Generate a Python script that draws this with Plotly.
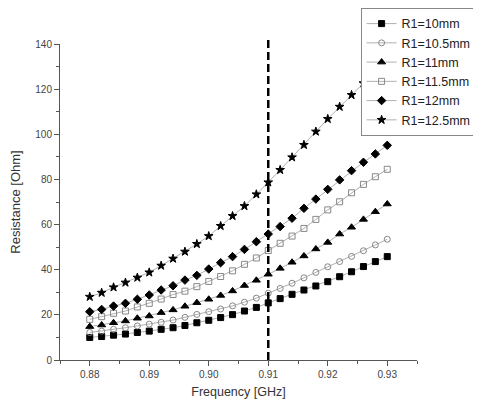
import plotly.graph_objects as go

freq = [round(0.88 + 0.002 * i, 3) for i in range(26)]

r10 = [10.0, 10.4, 11.0, 11.5, 12.2, 12.8, 13.6, 14.3, 15.3, 16.5, 17.6, 18.8, 20.1, 21.7, 23.3, 25.3,
       27.2, 29.1, 31.0, 32.8, 34.7, 36.9, 39.1, 41.4, 43.6, 45.8]
r10_5 = [12.2, 12.8, 13.6, 14.3, 15.1, 15.9, 16.7, 17.7, 18.9, 20.2, 21.4, 22.6, 24.0, 25.6, 27.4, 29.6,
         31.7, 34.0, 36.4, 38.8, 41.3, 43.6, 45.9, 48.4, 51.0, 53.5]
r11 = [14.8, 15.5, 16.5, 17.3, 18.5, 19.5, 21.0, 22.2, 23.8, 25.4, 26.9, 28.6, 30.6, 33.0, 35.3, 38.0,
       40.6, 43.3, 46.1, 49.2, 52.1, 55.8, 58.8, 62.3, 65.7, 69.1]
r11_5 = [18.0, 19.2, 20.7, 21.7, 23.5, 25.1, 27.0, 29.0, 30.5, 32.5, 34.8, 37.0, 39.5, 42.4, 45.2, 48.5,
         51.7, 54.9, 58.3, 62.3, 66.5, 70.1, 74.1, 77.8, 81.2, 84.5]
r12 = [21.4, 22.4, 23.9, 25.1, 26.9, 28.8, 31.0, 32.9, 35.4, 37.5, 40.3, 43.1, 45.8, 49.0, 52.4, 55.8,
       59.1, 62.8, 67.2, 71.3, 75.6, 79.8, 83.9, 87.6, 91.3, 95.1]
r12_5 = [28.0, 29.8, 32.2, 34.3, 36.5, 38.8, 41.8, 44.9, 48.0, 51.4, 54.9, 59.4, 63.8, 68.2, 73.4, 78.7,
         84.2, 89.8, 95.3, 101.2, 106.8, 112.2, 117.4, 122.6, 127.8, 133.0]

names = ["R1=10mm", "R1=10.5mm", "R1=11mm", "R1=11.5mm", "R1=12mm", "R1=12.5mm"]
series = [r10, r10_5, r11, r11_5, r12, r12_5]
symbols = ["square", "circle-open", "triangle-up", "square-open", "diamond", "star"]
mcolors = ["black", "#888888", "black", "#888888", "black", "black"]
msizes = [6, 6, 7, 6, 6.5, 6.5]

marker_freq = 0.91
x_ticks = [0.88, 0.89, 0.90, 0.91, 0.92, 0.93]
x_ticklabels = ["0.88", "0.89", "0.90", "0.91", "0.92", "0.93"]
y_ticks = [0, 20, 40, 60, 80, 100, 120, 140]

fig = go.Figure()
for name, ys, sym, mc, ms in zip(names, series, symbols, mcolors, msizes):
    fig.add_trace(go.Scatter(
        x=freq, y=ys, name=name, mode="lines+markers",
        line=dict(color="#b0b0b0", width=1),
        marker=dict(symbol=sym, size=ms, color=mc, line=dict(color=mc, width=1)),
    ))

fig.add_shape(type="line", xref="x", yref="paper", x0=marker_freq, x1=marker_freq,
              y0=0, y1=1.025, line=dict(color="black", width=2.5, dash="8px,4px"))

axis_common = dict(
    showline=True, linecolor="#555555", linewidth=1, ticks="outside", ticklen=5,
    tickcolor="#555555", showgrid=False, zeroline=False,
    tickfont=dict(family="Liberation Sans, Arial", size=10, color="#444444"),
)

fig.update_xaxes(
    range=[0.875, 0.935], tickvals=x_ticks, ticktext=x_ticklabels,
    minor=dict(ticks="outside", ticklen=3, dtick=0.005, tick0=0.875, tickcolor="#555555", showgrid=False),
    title=dict(text="Frequency [GHz]", font=dict(family="Liberation Sans, Arial", size=12.5, color="#333333"), standoff=8),
    **axis_common,
)
fig.update_yaxes(
    range=[0, 140], tickvals=y_ticks,
    minor=dict(ticks="outside", ticklen=3, dtick=10, tick0=0, tickcolor="#555555", showgrid=False),
    title=dict(text="Resistance [Ohm]", font=dict(family="Liberation Sans, Arial", size=13, color="#333333"), standoff=14),
    **axis_common,
)

# page body has an 8px margin, so the figure is sized to fit the 481x412 window
fig.update_layout(
    width=473, height=404,
    margin=dict(l=52, r=64, t=36, b=52, autoexpand=False),
    paper_bgcolor="white", plot_bgcolor="white",
    showlegend=True,
    legend=dict(
        x=0.842, y=1.114, xanchor="left", yanchor="top",
        bgcolor="white", bordercolor="#888888", borderwidth=1,
        font=dict(family="Liberation Sans, Arial", size=12.5, color="#222222"),
        itemwidth=30, tracegroupgap=0,
    ),
)

fig.write_html("out.html")
